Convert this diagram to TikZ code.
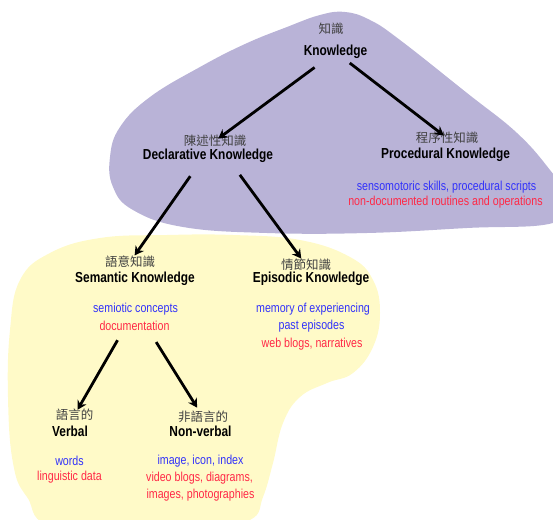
\documentclass[tikz,border=0pt]{standalone}
\usepackage{fontspec}
\setmainfont{Liberation Sans}[FakeStretch=0.82]
\newfontfamily\cjk{Noto Sans CJK TC}
\usetikzlibrary{arrows.meta}
\definecolor{lavender}{RGB}{185,179,215}
\definecolor{paleyellow}{RGB}{255,250,200}
\definecolor{noteblue}{RGB}{50,50,250}
\definecolor{notered}{RGB}{255,40,70}
\begin{document}
\begin{tikzpicture}[x=1pt,y=-1pt,
    zh/.style={inner sep=0pt,font=\cjk\fontsize{12.5}{14}\selectfont,text=black!75},
    head/.style={inner sep=0pt,font=\fontsize{14.5}{16}\selectfont\bfseries},
    noteb/.style={inner sep=0pt,font=\fontsize{13}{17}\selectfont,text=noteblue},
    noter/.style={inner sep=0pt,font=\fontsize{13}{17}\selectfont,text=notered},
    arr/.style={line width=2.8pt,-{Stealth[length=9pt,width=10pt]}}]
        \useasboundingbox (0,0) rectangle (553,519);
        \clip (0,0) rectangle (553,519);

        \fill[paleyellow] plot[smooth cycle,tension=0.7] coordinates {(50,253) (100,238) (167,235) (233,235)
            (300,240) (350,257) (373,280) (380,313) (373,347) (353,373) (327,383) (300,397) (283,423)
            (273,463) (263,497) (250,520) (200,530) (60,528) (27,497) (13,463) (8,397) (10,330) (20,280)};
        \fill[lavender] plot[smooth cycle,tension=0.7] coordinates {(287,27) (320,15) (345,12) (370,20)
            (400,40) (467,93) (517,133) (550,170) (570,200) (553,223) (467,228) (367,233) (267,233)
            (183,227) (133,210) (113,187) (110,157) (120,127) (150,97) (200,67) (245,44)};

        \node (knowzh) at (331,29) [zh] {知識};
        \node (know) at (335.5,52) [head] {Knowledge};

        \node (declzh) at (215,141) [zh] {陳述性知識};
        \node (decl) at (208,156) [head] {Declarative Knowledge};
        \node (proczh) at (447,138) [zh] {程序性知識};
        \node (proc) at (445.5,155) [head] {Procedural Knowledge};
        \node (proc1) at (446.5,187) [noteb] {sensomotoric skills, procedural scripts};
        \node (proc2) at (445.5,202) [noter] {non-documented routines and operations};

        \node (semzh) at (130,262) [zh] {語意知識};
        \node (sem) at (135,279) [head] {Semantic Knowledge};
        \node (sem1) at (135.5,309) [noteb] {semiotic concepts};
        \node (sem2) at (134.5,326) [noter] {documentation};
        \node (epizh) at (306,265) [zh] {情節知識};
        \node (epi) at (311,279) [head] {Episodic Knowledge};
        \node (epi1) at (313,309) [noteb] {memory of experiencing};
        \node (epi2) at (311.5,326) [noteb] {past episodes};
        \node (epi3) at (312,344) [noter] {web blogs, narratives};

        \node (verbzh) at (74.5,415) [zh] {語言的};
        \node (verb) at (70,431) [head] {Verbal};
        \node (verb1) at (69.5,461) [noteb] {words};
        \node (verb2) at (69.5,477) [noter] {linguistic data};
        \node (nonvzh) at (203,417) [zh] {非語言的};
        \node (nonv) at (200.5,431) [head] {Non-verbal};
        \node (nonv1) at (200.5,461) [noteb] {image, icon, index};
        \node (nonv2) at (199.5,478) [noter] {video blogs, diagrams,};
        \node (nonv3) at (200.5,495) [noter] {images, photographies};

        \draw[arr,shorten <=26pt,shorten >=4pt] (know.center) -- (declzh.center);
        \draw[arr,shorten <=18pt,shorten >=4pt] (know.center) -- (proczh.center);
        \draw[arr,shorten <=43pt,shorten >=8pt] (declzh.center) -- (semzh.center);
        \draw[arr,shorten <=42pt,shorten >=8pt] (declzh.center) -- (epizh.center);
        \draw[arr,shorten <=36pt,shorten >=6pt] (sem1.center) -- (verbzh.center);
        \draw[arr,shorten <=39pt,shorten >=11pt] (sem1.center) -- (nonvzh.center);
      \end{tikzpicture}
\end{document}
